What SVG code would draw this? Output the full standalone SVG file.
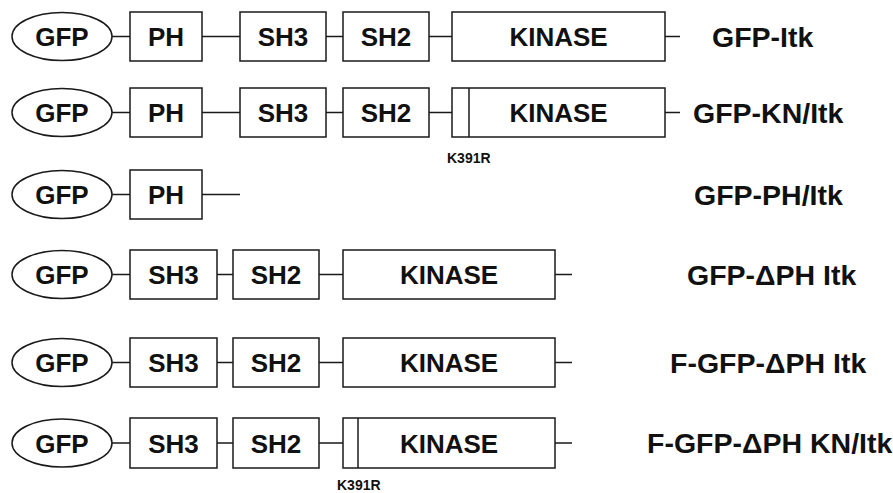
<svg xmlns="http://www.w3.org/2000/svg" width="893" height="493" viewBox="0 0 893 493">
<style>
.b{fill:#fff;stroke:#1a1a1a;stroke-width:1.5}
.c{stroke:#1a1a1a;stroke-width:1.5;fill:none}
.t{font-family:"Liberation Sans",Arial,sans-serif;font-weight:bold;font-size:26px;fill:#111;text-anchor:middle}
.l{font-family:"Liberation Sans",Arial,sans-serif;font-weight:bold;font-size:28.5px;fill:#111}
.m{font-family:"Liberation Sans",Arial,sans-serif;font-weight:bold;font-size:14px;fill:#111}
</style>
<rect width="893" height="493" fill="#fff"/>
<g id="connectors">
<path class="c" d="M112 36.5H130M202 36.5H240M326 36.5H343M429 36.5H452M665 36.5H680"/>
<path class="c" d="M112 112.5H130M202 112.5H240M326 112.5H343M429 112.5H452M665 112.5H680"/>
<path class="c" d="M112 194.5H130M202 194.5H240"/>
<path class="c" d="M112 274.5H130M217 274.5H233M319 274.5H343M555 274.5H572"/>
<path class="c" d="M112 362.5H130M217 362.5H233M319 362.5H343M555 362.5H572"/>
<path class="c" d="M112 443H130M217 443H233M319 443H343M555 443H572"/>
</g>
<g id="row1">
<g id="r1-gfp"><ellipse class="b" cx="62" cy="36.5" rx="50" ry="24"/><text class="t" x="62" y="46">GFP</text></g>
<g id="r1-ph"><rect class="b" x="130" y="12" width="72" height="49"/><text class="t" x="166" y="46">PH</text></g>
<g id="r1-sh3"><rect class="b" x="240" y="12" width="86" height="49"/><text class="t" x="283" y="46">SH3</text></g>
<g id="r1-sh2"><rect class="b" x="343" y="12" width="86" height="49"/><text class="t" x="386" y="46">SH2</text></g>
<g id="r1-kinase"><rect class="b" x="452" y="12" width="213" height="49"/><text class="t" x="558.5" y="46">KINASE</text></g>
<text id="r1-label" class="l" x="712" y="47">GFP-Itk</text>
</g>
<g id="row2">
<g id="r2-gfp"><ellipse class="b" cx="62" cy="112.5" rx="50" ry="24"/><text class="t" x="62" y="122">GFP</text></g>
<g id="r2-ph"><rect class="b" x="130" y="88" width="72" height="49"/><text class="t" x="166" y="122">PH</text></g>
<g id="r2-sh3"><rect class="b" x="240" y="88" width="86" height="49"/><text class="t" x="283" y="122">SH3</text></g>
<g id="r2-sh2"><rect class="b" x="343" y="88" width="86" height="49"/><text class="t" x="386" y="122">SH2</text></g>
<g id="r2-kinase"><rect class="b" x="452" y="88" width="213" height="49"/><path class="c" d="M469 88V137"/><text class="t" x="558.5" y="122">KINASE</text></g>
<text id="r2-mut" class="m" x="447" y="163">K391R</text>
<text id="r2-label" class="l" x="693" y="123">GFP-KN/Itk</text>
</g>
<g id="row3">
<g id="r3-gfp"><ellipse class="b" cx="62" cy="194.5" rx="50" ry="24"/><text class="t" x="62" y="204">GFP</text></g>
<g id="r3-ph"><rect class="b" x="130" y="170" width="72" height="49"/><text class="t" x="166" y="204">PH</text></g>
<text id="r3-label" class="l" x="694" y="205">GFP-PH/Itk</text>
</g>
<g id="row4">
<g id="r4-gfp"><ellipse class="b" cx="62" cy="274.5" rx="50" ry="24"/><text class="t" x="62" y="284">GFP</text></g>
<g id="r4-sh3"><rect class="b" x="130" y="250" width="87" height="49"/><text class="t" x="173.5" y="284">SH3</text></g>
<g id="r4-sh2"><rect class="b" x="233" y="250" width="86" height="49"/><text class="t" x="276" y="284">SH2</text></g>
<g id="r4-kinase"><rect class="b" x="343" y="250" width="212" height="49"/><text class="t" x="449" y="284">KINASE</text></g>
<text id="r4-label" class="l" x="687" y="285">GFP-ΔPH Itk</text>
</g>
<g id="row5">
<g id="r5-gfp"><ellipse class="b" cx="62" cy="362.5" rx="50" ry="24"/><text class="t" x="62" y="372">GFP</text></g>
<g id="r5-sh3"><rect class="b" x="130" y="338" width="87" height="49"/><text class="t" x="173.5" y="372">SH3</text></g>
<g id="r5-sh2"><rect class="b" x="233" y="338" width="86" height="49"/><text class="t" x="276" y="372">SH2</text></g>
<g id="r5-kinase"><rect class="b" x="343" y="338" width="212" height="49"/><text class="t" x="449" y="372">KINASE</text></g>
<text id="r5-label" class="l" x="670" y="373">F-GFP-ΔPH Itk</text>
</g>
<g id="row6">
<g id="r6-gfp"><ellipse class="b" cx="62" cy="443" rx="50" ry="24"/><text class="t" x="62" y="452.5">GFP</text></g>
<g id="r6-sh3"><rect class="b" x="130" y="418" width="87" height="50"/><text class="t" x="173.5" y="452.5">SH3</text></g>
<g id="r6-sh2"><rect class="b" x="233" y="418" width="86" height="50"/><text class="t" x="276" y="452.5">SH2</text></g>
<g id="r6-kinase"><rect class="b" x="343" y="418" width="212" height="50"/><path class="c" d="M358 418V468"/><text class="t" x="449" y="452.5">KINASE</text></g>
<text id="r6-mut" class="m" x="337" y="490">K391R</text>
<text id="r6-label" class="l" x="647" y="453">F-GFP-ΔPH KN/Itk</text>
</g>
</svg>
